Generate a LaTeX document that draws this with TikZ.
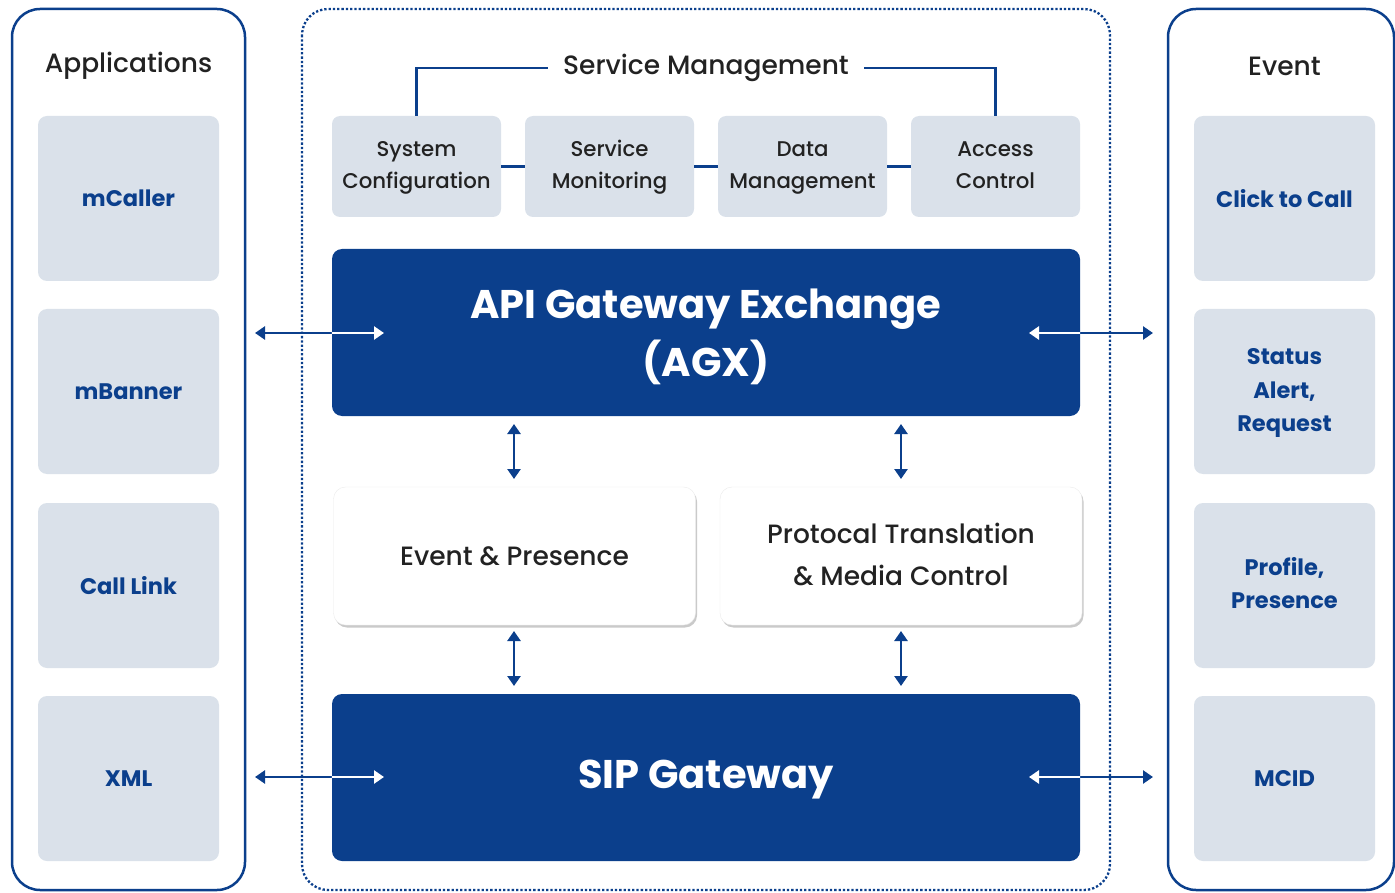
\documentclass[tikz,border=0pt]{standalone}
\usepackage{fontspec}
\setmainfont{Poppins}[UprightFont=* Medium, BoldFont=* Bold]
\usetikzlibrary{arrows.meta,shadows}
\definecolor{navy}{HTML}{0B3F8C}
\definecolor{boxgray}{HTML}{DAE1EA}
\definecolor{txt}{HTML}{222222}
\newcommand{\ls}{\strut}
\begin{document}
\begin{tikzpicture}[x=1pt,y=-1pt,
  panel/.style={draw=navy, line width=2.5pt, rounded corners=28pt, fill=white},
  dotpanel/.style={draw=navy, line width=2.3pt, dotted, rounded corners=26pt},
  graybox/.style={fill=boxgray, rounded corners=9pt, minimum width=181pt, minimum height=165pt, text=navy, font=\fontsize{22.5}{33.5}\selectfont\bfseries, align=center, inner sep=0pt},
  topbox/.style={fill=boxgray, rounded corners=8pt, minimum width=169pt, minimum height=101pt, text=txt, font=\fontsize{21.3}{32}\selectfont, align=center, inner sep=0pt},
  bigbox/.style={fill=navy, rounded corners=10pt, minimum width=748pt, minimum height=167pt, text=white, font=\fontsize{40}{58}\selectfont\bfseries, align=center, inner sep=0pt},
  bigtext/.style={text=white, font=\fontsize{40}{58}\selectfont\bfseries, align=center, inner sep=0pt},
  whitebox/.style={fill=white, draw=black!8, rounded corners=12pt, minimum width=362pt, minimum height=138pt, text=txt, font=\fontsize{26.5}{42}\selectfont, align=center, inner sep=0pt, drop shadow={shadow xshift=1.5pt, shadow yshift=-2.5pt, opacity=0.35, fill=black!60}},
  title/.style={text=txt, font=\fontsize{26.5}{30}\selectfont},
  conn/.style={draw=navy, line width=2.2pt},
  arr/.style={draw=navy, line width=2.5pt, {Triangle[length=10pt,width=13pt]}-{Triangle[length=10pt,width=13pt]}},
  warr/.style={draw=white, line width=2.5pt, {Triangle[length=10pt,width=13pt]}-{Triangle[length=10pt,width=13pt]}}
]
\useasboundingbox (0,0) rectangle (1395,893);
% panels
\draw[panel] (12,9) rectangle (245,890);
\draw[panel] (1168,9) rectangle (1394,890);
\draw[dotpanel] (302,9) rectangle (1110,890);
% titles
\node[title] (apptitle) at (128.5,66) {Applications};
\node[title] (evttitle) at (1284.5,66) {Event};
% left gray boxes
\node[graybox] (mcaller) at (128.5,198.5) {mCaller};
\node[graybox] (mbanner) at (128.5,391.5) {mBanner};
\node[graybox] (calllink) at (128.5,585.5) {Call Link};
\node[graybox] (xml) at (128.5,778.5) {XML};
% right gray boxes
\node[graybox] (click) at (1284.5,198.5) {Click to Call};
\node[graybox] (status) at (1284.5,391.5) {\ls Status\\\ls Alert,\\\ls Request};
\node[graybox] (profile) at (1284.5,585.5) {\ls Profile,\\\ls Presence};
\node[graybox] (mcid) at (1284.5,778.5) {MCID};
% service management
\node[topbox] (sysconf) at (416.5,166.5) {\ls System\\\ls Configuration};
\node[topbox] (servmon) at (609.5,166.5) {\ls Service\\\ls Monitoring};
\node[topbox] (datamgmt) at (802.5,166.5) {\ls Data\\\ls Management};
\node[topbox] (access) at (995.5,166.5) {\ls Access\\\ls Control};
\node[title, inner xsep=15pt] (smtitle) at (706,68) {Service Management};
\draw[conn] (sysconf.north) |- (smtitle.west);
\draw[conn] (access.north) |- (smtitle.east);
\draw[conn] (sysconf.east) -- (servmon.west);
\draw[conn] (servmon.east) -- (datamgmt.west);
\draw[conn] (datamgmt.east) -- (access.west);
% main boxes
\node[bigbox] (agx) at (706,332.5) {};
\node[bigtext] (agxtext) at (706,336) {\ls API Gateway Exchange\\\ls (AGX)};
\node[bigbox] (sip) at (706,777.5) {};
\node[bigtext] (siptext) at (706,780) {SIP Gateway};
\node[whitebox] (evpres) at (514.5,556) {Event \& Presence};
\node[whitebox] (proto) at (901,556) {\ls Protocal Translation\\\ls \& Media Control};
% coordinates for arrows
\coordinate (la1) at (255,333);
\coordinate (la2) at (384,333);
\coordinate (ra1) at (1029,333);
\coordinate (ra2) at (1153,333);
\coordinate (lb1) at (255,777);
\coordinate (lb2) at (384,777);
\coordinate (rb1) at (1029,777);
\coordinate (rb2) at (1153,777);
\coordinate (v1a) at (514,424);
\coordinate (v1b) at (514,479);
\coordinate (v2a) at (901,424);
\coordinate (v2b) at (901,479);
\coordinate (v3a) at (514,631);
\coordinate (v3b) at (514,686);
\coordinate (v4a) at (901,631);
\coordinate (v4b) at (901,686);
\draw[arr] (la1) -- (la2);
\draw[arr] (ra1) -- (ra2);
\draw[arr] (lb1) -- (lb2);
\draw[arr] (rb1) -- (rb2);
\begin{scope}
\clip (agx.north west) rectangle (agx.south east);
\draw[warr] (la1) -- (la2);
\draw[warr] (ra1) -- (ra2);
\end{scope}
\begin{scope}
\clip (sip.north west) rectangle (sip.south east);
\draw[warr] (lb1) -- (lb2);
\draw[warr] (rb1) -- (rb2);
\end{scope}
% vertical arrows
\draw[arr] (v1a) -- (v1b);
\draw[arr] (v2a) -- (v2b);
\draw[arr] (v3a) -- (v3b);
\draw[arr] (v4a) -- (v4b);
\end{tikzpicture}
\end{document}
